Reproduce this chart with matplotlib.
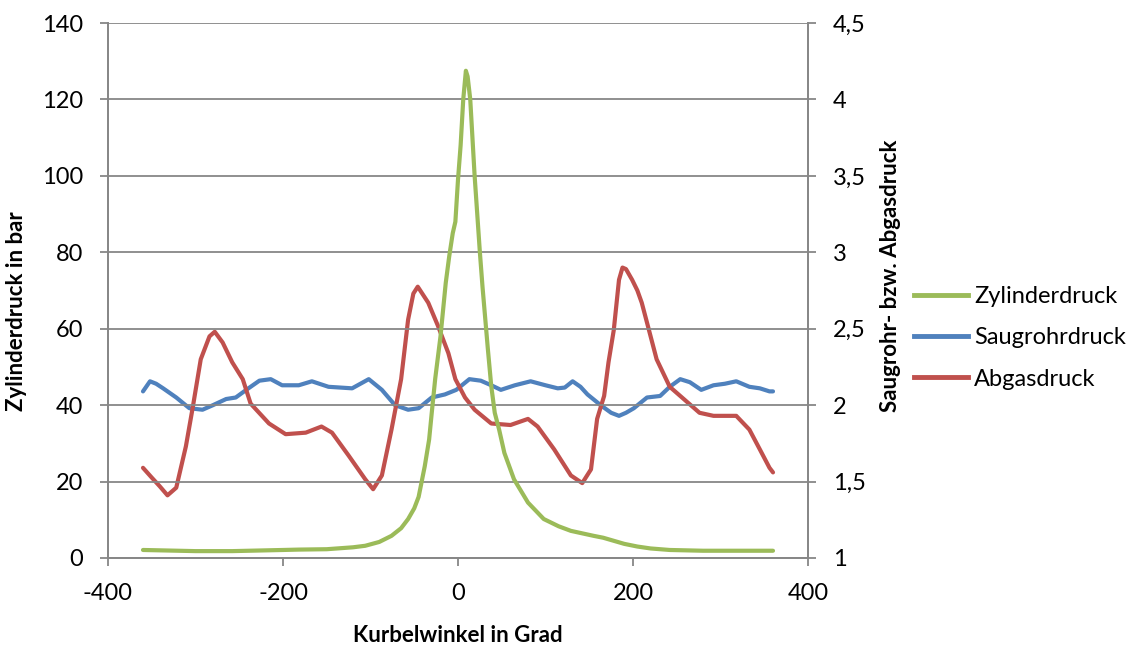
import matplotlib
matplotlib.use("Agg")
import matplotlib.pyplot as plt
from matplotlib.lines import Line2D

plt.rcParams['font.family'] = ['Lato', 'DejaVu Sans']
plt.rcParams['axes.unicode_minus'] = False

# Zylinderdruck (bar, left axis)
zyl_angle = [-360, -300, -258, -200, -182, -150, -120, -106, -90, -76, -65, -57, -50,
             -45, -38, -33, -30, -26, -20, -14, -10, -6, -3, 0, 3, 6, 9, 11, 14, 19,
             22, 25, 28, 31, 34, 38, 42, 47, 53, 64, 80, 98, 115, 129, 145, 155, 166,
             178, 190, 205, 220, 242, 280, 320, 360]
zyl_value = [2.1, 1.8, 1.8, 2.1, 2.2, 2.3, 2.8, 3.2, 4.2, 5.8, 7.8, 10.2, 13,
             16, 24, 31, 38, 47, 58, 72, 79, 85, 88, 99, 108, 120, 127.5, 126, 120, 100,
             90, 80, 71, 63, 55, 45, 38, 33.6, 27.5, 20.6, 14.5, 10.2, 8.3, 7.1, 6.3, 5.8, 5.3,
             4.5, 3.7, 3.0, 2.5, 2.1, 1.9, 1.9, 1.9]

# Saugrohrdruck (right axis)
saug_angle = [-360, -352, -345, -337, -322, -307, -292, -280, -265, -254, -242, -227,
              -214, -201, -182, -167, -148, -121, -102, -87, -72, -57, -45, -30, -15,
              -2, 13, 26, 38, 49, 65, 83, 100, 114, 122, 131, 140, 148, 163, 175, 184,
              192, 201, 216, 231, 242, 254, 265, 278, 292, 305, 318, 333, 345, 356, 360]
saug_value = [2.09, 2.156, 2.14, 2.11, 2.05, 1.98, 1.97, 2.0, 2.04, 2.05, 2.10, 2.16,
              2.17, 2.13, 2.13, 2.156, 2.12, 2.11, 2.17, 2.10, 2.0, 1.97, 1.98, 2.05, 2.07,
              2.10, 2.17, 2.16, 2.13, 2.10, 2.13, 2.156, 2.13, 2.11, 2.115, 2.156, 2.12, 2.07, 2.0, 1.95, 1.93,
              1.95, 1.98, 2.05, 2.06, 2.12, 2.17, 2.15, 2.10, 2.13, 2.14, 2.156, 2.12, 2.11, 2.09, 2.09]

# Abgasdruck (right axis)
abg_angle = [-360, -350, -341, -332, -322, -311, -303, -294, -284, -278, -269, -258,
             -246, -237, -216, -197, -174, -156, -144, -125, -106, -97, -87, -76, -65,
             -57, -51, -46, -34, -23, -11, -3, 8, 19, 38, 60, 80, 91, 110, 129, 142,
             152, 159, 167, 172, 178, 184, 188, 192, 199, 205, 210, 216, 227, 242, 254,
             276, 292, 318, 333, 345, 356, 360]
abg_value = [1.59, 1.526, 1.47, 1.41, 1.46, 1.73, 1.99, 2.30, 2.45, 2.48, 2.41, 2.28,
             2.17, 2.01, 1.88, 1.81, 1.82, 1.86, 1.82, 1.67, 1.515, 1.45, 1.54, 1.84, 2.17,
             2.56, 2.73, 2.775, 2.67, 2.52, 2.34, 2.17, 2.05, 1.97, 1.88, 1.87, 1.91, 1.86, 1.71, 1.54, 1.49,
             1.58, 1.91, 2.06, 2.28, 2.49, 2.82, 2.90, 2.89, 2.82, 2.75, 2.67, 2.54, 2.30, 2.12, 2.06,
             1.95, 1.93, 1.93, 1.84, 1.71, 1.59, 1.56]

series_names = ['Zylinderdruck', 'Saugrohrdruck', 'Abgasdruck']
colors = ['#9BBB59', '#4F81BD', '#C0504D']

x_ticks = [-400, -200, 0, 200, 400]
x_labels = ['-400', '-200', '0', '200', '400']
left_ticks = [0, 20, 40, 60, 80, 100, 120, 140]
right_ticks = [1, 1.5, 2, 2.5, 3, 3.5, 4, 4.5]
right_labels = ['1', '1,5', '2', '2,5', '3', '3,5', '4', '4,5']

grey = '#878787'
fs = 17
lab_fs = 16

W, H = 1142, 645
fig = plt.figure(figsize=(W / 100, H / 100), dpi=100)
left, right, top, bottom = 108, 808, 23, 558
ax = fig.add_axes([left / W, (H - bottom) / H, (right - left) / W, (bottom - top) / H])
ax2 = ax.twinx()

lw = 3.0
ax.plot(zyl_angle, zyl_value, color=colors[0], lw=lw, solid_capstyle='round', zorder=3)
ax2.plot(saug_angle, saug_value, color=colors[1], lw=lw, solid_capstyle='round')
ax2.plot(abg_angle, abg_value, color=colors[2], lw=lw, solid_capstyle='round')

ax.set_zorder(ax2.get_zorder() + 1)
ax.patch.set_visible(False)

ax.set_xlim(-400, 400)
ax.set_ylim(0, 140)
ax2.set_ylim(1, 4.5)
ax.set_xticks(x_ticks)
ax.set_xticklabels(x_labels)
ax.set_yticks(left_ticks)
ax2.set_yticks(right_ticks)
ax2.set_yticklabels(right_labels)

for a in (ax, ax2):
    for s in a.spines.values():
        s.set_color(grey)
        s.set_linewidth(1.3)
    a.spines['top'].set_visible(False)
    a.tick_params(direction='out', length=6, width=1.3, color=grey,
                  labelsize=fs, labelcolor='black', pad=12)

ax.yaxis.grid(True, color=grey, lw=1.3)
ax.set_axisbelow(True)

ax.set_xlabel('Kurbelwinkel in Grad', fontsize=lab_fs, fontweight='bold')
ax.set_ylabel('Zylinderdruck in bar', fontsize=lab_fs, fontweight='bold')
ax2.set_ylabel('Saugrohr- bzw. Abgasdruck', fontsize=lab_fs, fontweight='bold')
ax.xaxis.set_label_coords(0.5, -0.125)
ax.yaxis.set_label_coords((27 - left) / (right - left), (bottom - 311) / (bottom - top))
ax2.yaxis.set_label_coords((880 - left) / (right - left), (bottom - 276) / (bottom - top))

handles = [Line2D([0], [0], color=c, lw=3.5) for c in colors]
fig.legend(handles, series_names, loc='center left', bbox_to_anchor=(914 / W, 1 - 338 / H),
           frameon=False, fontsize=fs, handlelength=2.3, handletextpad=0.25,
           labelspacing=0.85, borderaxespad=0, borderpad=0)

fig.savefig('out.png', dpi=100)
